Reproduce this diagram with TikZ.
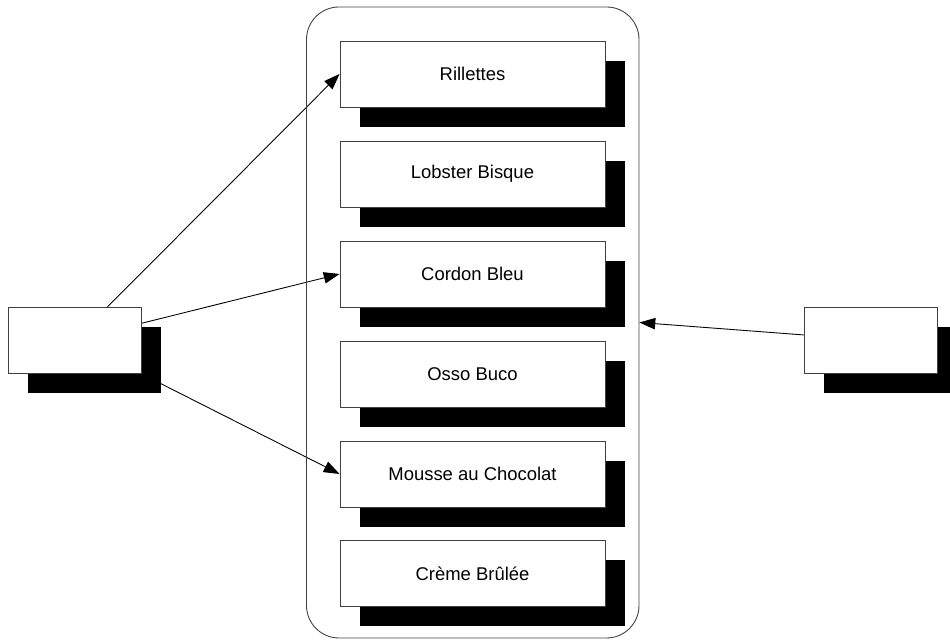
\documentclass[tikz,border=0pt]{standalone}
\usepackage{fontspec}
\setmainfont{Liberation Sans}
\usetikzlibrary{arrows.meta, shadows, backgrounds}

\begin{document}
\begin{tikzpicture}[
    dish/.style={draw=black!75, fill=white, line width=0.5pt,
                 minimum width=5.3cm, minimum height=1.32cm,
                 font=\fontsize{10.5}{12}\selectfont,
                 drop shadow={shadow xshift=0.4cm, shadow yshift=-0.4cm,
                              fill=black, opacity=1}},
    actor/.style={dish, minimum width=2.66cm},
    arr/.style={-{Triangle[length=9pt, width=6.5pt]}, line width=0.5pt}
  ]
    \useasboundingbox (0, 0) rectangle (19, 12.8);
    % the menu frame
    \node[draw=black!75, line width=0.5pt, rounded corners=0.65cm,
          minimum width=6.65cm, minimum height=12.62cm] (menu) at (9.455, 6.35) {};
    \node[dish] (rill) at (9.45, 11.32) {Rillettes};
    \node[dish] (bisque) at (9.45, 9.32) {Lobster Bisque};
    \node[dish] (cordon) at (9.45, 7.32) {Cordon Bleu};
    \node[dish] (osso) at (9.45, 5.32) {Osso Buco};
    \node[dish] (mousse) at (9.45, 3.32) {Mousse au Chocolat};
    \node[dish] (creme) at (9.45, 1.33) {Crème Brûlée};
    % the two outer boxes
    \node[actor] (guest) at (1.49, 6.0) {};
    \node[actor] (chef) at (17.41, 6.0) {};
    \begin{scope}[on background layer]
      \draw[arr] (guest.center) -- (rill.west);
      \draw[arr] (guest.center) -- (cordon.west);
      \draw[arr] (guest.center) -- (mousse.west);
      \draw[arr] (chef) -- (menu.east);
    \end{scope}
  \end{tikzpicture}
\end{document}
